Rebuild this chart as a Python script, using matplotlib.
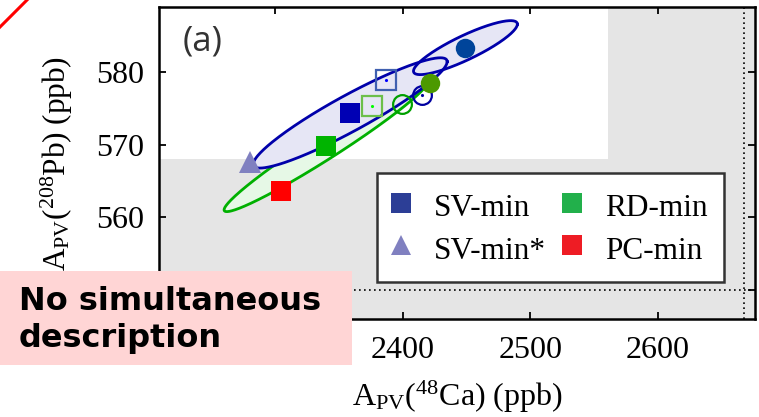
import numpy as np
import matplotlib
matplotlib.use("Agg")
import matplotlib.pyplot as plt
from matplotlib.lines import Line2D
from matplotlib.patches import Rectangle

# ---------------- data ----------------
xlim = (2209, 2676)
ylim = (546, 589)
xticks = [2300, 2400, 2500, 2600]
xticklabels = ['', '2400', '2500', '2600']   # 2300 is hidden under the note box
yticks = [550, 560, 570, 580]
yticklabels = ['', '560', '570', '580']      # 550 is hidden under the note box

# allowed (white) region bounds
ca_max = 2561
pb_min = 568
# dotted reference lines
ca_dot = 2667
pb_dot = 550

# filled model points
sv_min = (2358.8, 574.4)
rd_min = (2340.0, 569.9)
pc_min = (2304.8, 563.7)
sv_min_star = (2280.0, 567.7)
# other points
open_sq_blue = (2386.8, 578.9)
open_sq_green = (2376.1, 575.3)
open_circ_green = (2399.2, 575.7)
open_circ_blue = (2414.9, 576.9)
circ_olive = (2421.6, 578.5)
circ_dblue = (2449.1, 583.4)

# ellipses: center x, center y, sigma x, sigma y, correlation
ell_green = (2340.0, 569.9, 80.0, 9.1, 0.973)
ell_blue_a = (2358.8, 574.4, 76.0, 7.6, 0.930)
ell_blue_b = (2449.1, 583.4, 40.7, 3.72, 0.869)

legend_labels = ["SV-min", "SV-min*", "RD-min", "PC-min"]
legend_colors = ["#2c3e96", "#8080c0", "#22b04b", "#ee1c24"]
legend_markers = ["s", "^", "s", "s"]

# ---------------- style ----------------
plt.rcParams['font.family'] = ['Liberation Serif', 'DejaVu Serif']
plt.rcParams['mathtext.fontset'] = 'custom'
plt.rcParams['mathtext.rm'] = 'Liberation Serif'
plt.rcParams['mathtext.it'] = 'Liberation Serif:italic'

fig = plt.figure(figsize=(7.59, 4.17), dpi=100)
ax = fig.add_axes([159/759, 1-319/417, 596/759, 312/417])
ax.set_xlim(*xlim)
ax.set_ylim(*ylim)
ax.set_facecolor('#e5e5e5')

# white allowed region
ax.fill_between([xlim[0], ca_max], pb_min, ylim[1], color='white', lw=0, zorder=0.5)

# dotted lines
ax.axhline(pb_dot, color='black', ls=(0, (1, 2.0)), lw=1.2, zorder=1)
ax.axvline(ca_dot, color='black', ls=(0, (1, 2.0)), lw=1.2, zorder=1)


def ell_pts(e, n=300):
    cx, cy, sx, sy, r = e
    t = np.linspace(0, 2*np.pi, n)
    return cx + sx*np.cos(t), cy + sy*(r*np.cos(t) + np.sqrt(1-r*r)*np.sin(t))


gx, gy = ell_pts(ell_green)
ax.fill(gx, gy, facecolor='#e6f8e6', edgecolor='none', zorder=2)
ax.plot(gx, gy, color='#00b000', lw=2.0, zorder=2.1)

ax_, ay_ = ell_pts(ell_blue_a)
bx, by = ell_pts(ell_blue_b)
ax.fill(ax_, ay_, facecolor='#e6e6f5', edgecolor='none', zorder=3)
ax.fill(bx, by, facecolor='#e6e6f5', edgecolor='none', zorder=3)
ax.plot(ax_, ay_, color='#0000aa', lw=2.0, zorder=3.1)
ax.plot(bx, by, color='#0000aa', lw=2.0, zorder=3.1)

ms = 14.4
ax.plot(*sv_min, 's', color='#0000b4', ms=ms, mew=0, zorder=5)
ax.plot(*rd_min, 's', color='#00b400', ms=ms, mew=0, zorder=5)
ax.plot(*pc_min, 's', color='#ff0000', ms=ms, mew=0, zorder=5)
ax.plot(*sv_min_star, '^', color='#8080c0', ms=16, mew=0, zorder=5)
ax.plot(*open_sq_blue, 's', mfc='none', mec='#4060b0', ms=14, mew=1.6, zorder=5)
ax.plot(*open_sq_blue, '.', color='#0000ff', ms=2.5, zorder=5)
ax.plot(*open_sq_green, 's', mfc='none', mec='#6cbf4a', ms=14, mew=1.6, zorder=5)
ax.plot(*open_sq_green, '.', color='#00ff00', ms=2.5, zorder=5)
ax.plot(*open_circ_green, 'o', mfc='none', mec='#00a000', ms=13.5, mew=1.6, zorder=5)
ax.plot(*open_circ_blue, 'o', mfc='none', mec='#0000a0', ms=13.5, mew=1.6, zorder=5)
ax.plot(*open_circ_blue, '.', color='#0000a0', ms=2.5, zorder=5)
ax.plot(*circ_olive, 'o', color='#4c9900', ms=14, mew=0, zorder=5)
ax.plot(*circ_dblue, 'o', color='#00449a', ms=14, mew=0, zorder=5)

# axes styling
ax.set_xticks(xticks)
ax.set_xticklabels(xticklabels)
ax.set_yticks(yticks)
ax.set_yticklabels(yticklabels)
ax.tick_params(direction='in', length=5, width=1.3, top=True, right=True,
               labelsize=23, colors='black')
ax.tick_params(axis='x', pad=12)
ax.tick_params(axis='y', pad=11)
for s in ax.spines.values():
    s.set_linewidth(1.8)
    s.set_zorder(10)

ax.set_xlabel(r'$\mathrm{A_{PV}(^{48}Ca)\ (ppb)}$', fontsize=23, labelpad=10)
ax.set_ylabel(r'$\mathrm{A_{PV}(^{208}Pb)\ (ppb)}$', fontsize=22.5, labelpad=15)

ax.text(0.039, 0.945, '(a)', transform=ax.transAxes, fontsize=25,
        family='Open Sans', color='#333333', va='top', ha='left', zorder=6)

handles = [Line2D([], [], ls='none', marker=m, color=c, ms=14, mew=0)
           for m, c in zip(legend_markers, legend_colors)]
leg = ax.legend(handles, legend_labels, ncol=2, loc='upper left',
                bbox_to_anchor=(0.366, 0.468), borderaxespad=0, fontsize=22.5,
                handlelength=0.5, handleheight=1.2, handletextpad=0.8,
                columnspacing=0.58, labelspacing=0.3, borderpad=0.52,
                fancybox=False, framealpha=1, edgecolor='#333333')
leg.get_frame().set_linewidth(1.8)
leg.set_zorder(8)

# figure-level decorations
fig.add_artist(Line2D([0, 27/759], [1-27/417, 1], transform=fig.transFigure,
                      color='red', lw=2.2))
fig.add_artist(Rectangle((0, 1-365/417), 352/759, 94/417, transform=fig.transFigure,
                         facecolor='#ffd5d5', edgecolor='none', zorder=20))
fig.text(19/759, 1-310/417, 'No simultaneous', family='DejaVu Sans', weight='bold',
         fontsize=23, color='black', va='baseline', ha='left', zorder=21)
fig.text(19/759, 1-347/417, 'description', family='DejaVu Sans', weight='bold',
         fontsize=23, color='black', va='baseline', ha='left', zorder=21)

fig.savefig('out.png', dpi=100)
